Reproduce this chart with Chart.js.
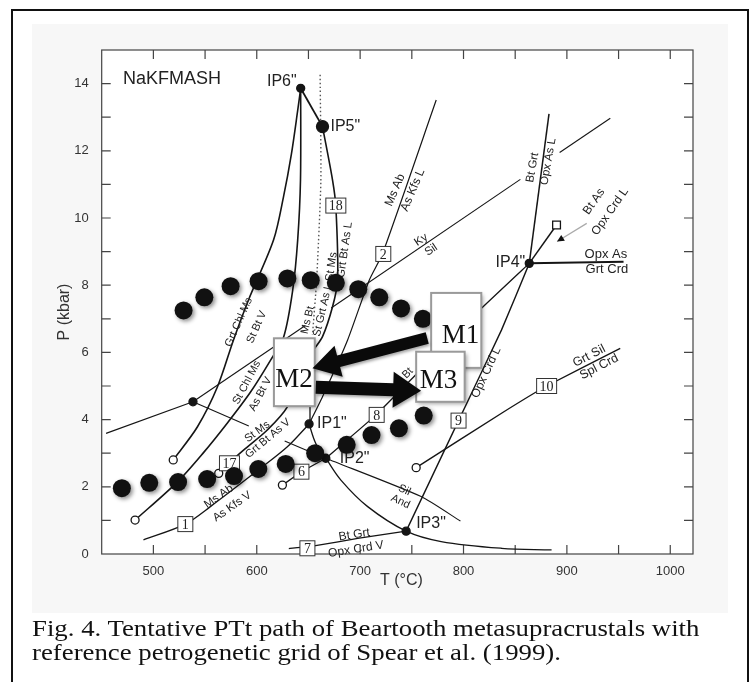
<!DOCTYPE html>
<html>
<head>
<meta charset="utf-8">
<script src="https://cdn.jsdelivr.net/npm/chart.js@4.4.1/dist/chart.umd.min.js"></script>
<style>
html, body { margin: 0; padding: 0; background: #fff; }
#wrap { position: relative; width: 751px; height: 682px; overflow: hidden; }
#frame { position: absolute; left: 11px; top: 9px; width: 738px; height: 700px; border: 2px solid #111; box-sizing: border-box; }
#scan { position: absolute; left: 32px; top: 24px; width: 696px; height: 589px; background: #f7f7f7; }
#chartBox { position: absolute; left: 0; top: 0; width: 751px; height: 682px; }
#caption { position: absolute; left: 32px; top: 616px; font: 26.8px/28px "Liberation Serif", "Times New Roman", serif; color: #111; white-space: nowrap; transform: scaleY(0.86); transform-origin: 0 0; }
</style>
</head>
<body>
<div id="wrap">
  <div id="frame"></div>
  <div id="scan"></div>
  <div id="chartBox"><canvas id="grid"></canvas></div>
  <div id="caption">Fig. 4. Tentative PTt path of Beartooth metasupracrustals with<br>reference petrogenetic grid of Spear et al. (1999).</div>
</div>
<script>
// P-T path (big dots), [T °C, P kbar]
const pathUpper = [[529.2, 7.25], [549.3, 7.64], [574.7, 7.97], [601.8, 8.12], [629.6, 8.2], [652.2, 8.15],
  [676.5, 8.07], [698.2, 7.88], [718.5, 7.64], [739.6, 7.31], [760.7, 7.0]];
const pathLower = [[469.5, 1.96], [496, 2.12], [523.9, 2.14], [552, 2.23], [578, 2.32], [601.5, 2.53],
  [628, 2.68], [656.5, 3.0], [687, 3.25], [711, 3.54], [737.5, 3.74], [761.5, 4.12]];

// reaction curves
const lineGrtChlMs = [[519.2, 2.8], [542.5, 3.78], [561.9, 4.97], [577.5, 6.37], [592, 7.56], [616.3, 9.35],
  [626, 10.65], [633.5, 11.9], [639.6, 13.2], [642.5, 13.86]];
const lineStChlMs = [[642.5, 13.86], [642.3, 11.13], [639.6, 9.35], [634.8, 7.86], [626, 6.46], [613.4, 5.77],
  [594, 4.82], [571.6, 3.9], [548.3, 3.01], [523.1, 2.14], [482.3, 1.01]];
const lineStMs = [[663.6, 12.72], [673.3, 11.13], [676.5, 10.34], [678.2, 8.15], [673.3, 7.36], [663.6, 6.47],
  [653.6, 6.0], [629.6, 4.38], [610.2, 3.69], [587.5, 3.1], [572.9, 2.7], [563.2, 2.4]];
const lineMsAbV = [[490.4, 0.42], [530.9, 0.89], [555.1, 1.41], [603.6, 2.55], [629.6, 3.19], [650.6, 3.87]];
const lineMsAbL = [[650.6, 3.87], [663.6, 4.68], [687.9, 6.37], [708.8, 8.15], [721.8, 8.95], [773.6, 13.51]];
const lineKySil = [[538.3, 4.53], [647, 6.8]];
const lineKySil2 = [[672, 7.32], [855, 11.15]];
const lineKySil3 = [[893, 11.95], [942, 12.97]];
const lineKyAnd = [[454.2, 3.59], [538.3, 4.53]];
const lineSilAnd = [[538.3, 4.53], [592.3, 3.81]];
const lineSilAnd2 = [[627, 3.36], [666.8, 2.85], [759, 1.71], [797, 0.98]];
const lineIP1IP3 = [[650.6, 3.87], [657.1, 3.29], [666.8, 2.85], [681.4, 2.2], [707.3, 1.41], [744.5, 0.68],
  [778.4, 0.37], [836.8, 0.17], [885.2, 0.12]];
const line6 = [[624.8, 2.05], [643.2, 2.45], [666.8, 2.85]];
const line8 = [[666.8, 2.85], [715.4, 4.14], [817.3, 7.31], [863.6, 8.65]];
const line9 = [[744.5, 0.68], [795.2, 3.97], [836.8, 6.67], [863.6, 8.65]];
const lineBtGrtL = [[863.6, 8.65], [882.7, 13.1]];
const lineBtAsL = [[863.6, 8.65], [890, 9.79]];
const lineOpxAs = [[863.6, 8.65], [954.8, 8.7]];
const line10 = [[754.2, 2.57], [836.8, 4.19], [880.4, 5.0], [951.6, 6.12]];
const line7 = [[631, 0.16], [655.4, 0.24], [699.1, 0.47], [744.5, 0.68]];
const lineIP6IP5 = [[642.5, 13.86], [663.6, 12.72]];
const lineIP1Up = [[650.6, 3.87], [651.5, 4.6]];
const lineDotted = [[661.3, 14.26], [662, 11.1], [657.9, 8.15], [653.9, 6.52]];

// invariant points
const openPoints = [[519.2, 2.8], [482.3, 1.01], [563.2, 2.4], [624.8, 2.05], [754.2, 2.57]];
const invariantPoints = [[538.3, 4.53], [650.6, 3.87], [666.8, 2.85], [744.5, 0.68], [863.6, 8.65], [642.5, 13.86]];
const ip5Point = [[663.6, 12.72]];
const squarePoint = [[890, 9.79]];

// metamorphic stages M1-M3: [Tmin, Tmax, Pmin, Pmax]
const stageNames = ['M1', 'M2', 'M3'];
const stageBoxes = [[768.7, 817.2, 5.54, 7.77], [616.6, 656.1, 4.4, 6.42], [754.2, 801.1, 4.53, 6.02]];
const stageText = [[797, 6.52], [636, 5.21], [775.8, 5.18]];
const arrowTails = [[764.9, 6.43], [657.1, 4.96]];
const arrowTips = [[653.9, 5.53], [759, 4.86]];

const xy = a => a.map(([x, y]) => ({ x, y }));
const INK = '#151515';

function curve(data, width, tension, dash) {
  return {
    data: xy(data), showLine: true, pointRadius: 0, borderColor: INK, borderWidth: width,
    tension: tension, borderDash: dash || [], order: 2, clip: false
  };
}
function marks(data, radius, fill, style) {
  return {
    data: xy(data), showLine: false, pointRadius: radius, pointBackgroundColor: fill,
    pointBorderColor: INK, pointBorderWidth: 1.3, pointStyle: style || 'circle', order: 1, clip: false
  };
}

const datasets = [
  curve(lineGrtChlMs, 1.6, 0.3), curve(lineStChlMs, 1.6, 0.3), curve(lineStMs, 1.6, 0.3),
  curve(lineMsAbV, 1.3, 0.3), curve(lineMsAbL, 1.2, 0.2),
  curve(lineKySil, 1.1, 0), curve(lineKySil2, 1.1, 0), curve(lineKySil3, 1.1, 0), curve(lineKyAnd, 1.1, 0),
  curve(lineSilAnd, 1.1, 0), curve(lineSilAnd2, 1.1, 0.2),
  curve(lineIP1IP3, 1.3, 0.35), curve(line6, 1.3, 0), curve(line8, 1.3, 0.1), curve(line9, 1.4, 0.1),
  curve(lineBtGrtL, 1.5, 0), curve(lineBtAsL, 1.5, 0), curve(lineOpxAs, 2, 0), curve(line10, 1.4, 0.1),
  curve(line7, 1.3, 0.1), curve(lineIP6IP5, 1.8, 0), curve(lineIP1Up, 1.3, 0),
  Object.assign(curve(lineDotted, 1.4, 0.2, [1.5, 2.5]), { borderColor: '#555' }),
  marks(openPoints, 4, '#fff'), marks(invariantPoints, 4, INK), marks(ip5Point, 6, INK),
  marks(squarePoint, 5.5, '#fff', 'rect'),
  {
    data: xy(pathUpper.concat(pathLower)), showLine: false, pointRadius: 9, pointHoverRadius: 9,
    pointBackgroundColor: '#111', pointBorderWidth: 0, order: 0, clip: false
  }
];
const DOTS = datasets.length - 1;

// text on the grid: [text, T, P, angle, size]
const reactionText = [
  ['Grt Chl Ms', 582.5, 6.9, -66, 11], ['St Bt V', 600, 6.75, -66, 11],
  ['St Chl Ms', 590.4, 5.1, -62, 11], ['As Bt V', 603.5, 4.76, -62, 11],
  ['St Ms', 600.5, 3.64, -36, 11], ['Grt Bt As V', 610.8, 3.44, -40, 11],
  ['Ms Ab', 563.2, 1.71, -35, 11.5], ['As Kfs V', 576.2, 1.41, -35, 11.5],
  ['Ms Bt', 649.3, 6.96, -77, 11], ['St Grt As L', 664, 7.26, -77, 11],
  ['St Ms', 672.3, 8.55, -82, 11.5], ['Grt Bt As L', 685.2, 9.05, -82, 11.5],
  ['Ms Ab', 733.8, 10.83, -67, 12], ['As Kfs L', 751, 10.83, -67, 12],
  ['Ky', 759, 9.35, -34, 11.5], ['Sil', 768.7, 9.05, -34, 11.5],
  ['Bt Grt', 866.8, 11.5, -80, 11.5], ['Opx As L', 882, 11.68, -80, 11.5],
  ['Bt As', 926.3, 10.49, -55, 12], ['Opx Crd L', 941.8, 10.19, -55, 12],
  ['Opx As', 937.7, 8.93, 0, 13], ['Grt Crd', 938.7, 8.47, 0, 13],
  ['Grt Sil', 921.5, 5.89, -27, 12.5], ['Spl Crd', 931.2, 5.57, -27, 12.5],
  ['Opx Crd L', 822, 5.4, -65, 12], ['Sil', 742.8, 1.9, 25, 11], ['And', 739, 1.56, 25, 11],
  ['Bt Grt', 694.3, 0.57, -9, 12], ['Opx Crd V', 696, 0.14, -9, 12], ['Bt', 746, 5.38, -45, 11]
];
// invariant point names: [text, T, P, dx, dy, align]
const ipText = [
  ['IP6"', 642.5, 13.86, -4, -7, 'right'], ['IP5"', 663.6, 12.72, 8, 0, 'left'],
  ['IP4"', 863.6, 8.65, -4, -1, 'right'], ['IP1"', 650.6, 3.87, 8, 0, 'left'],
  ['IP2"', 666.8, 2.85, 14, 0, 'left'], ['IP3"', 744.5, 0.68, 10, -8, 'left']
];
// numbered reaction boxes
const reactionNumbers = ['1', '17', '6', '7', '8', '9', '10', '18', '2'];
const numberAt = [[530.9, 0.89], [573.6, 2.7], [643.2, 2.45], [649, 0.17], [716, 4.14], [795.2, 3.97],
  [880.4, 5.0], [676.5, 10.37], [722.4, 8.93]];
const pointerFrom = [919.2, 9.84];
const pointerTo = [890.5, 9.3];

function toPx(chart, t, p) {
  return [chart.scales.x.getPixelForValue(t), chart.scales.y.getPixelForValue(p)];
}

function drawArrow(ctx, x0, y0, x1, y1, shaft, headLen, headW) {
  const a = Math.atan2(y1 - y0, x1 - x0);
  const len = Math.hypot(x1 - x0, y1 - y0);
  ctx.save();
  ctx.translate(x0, y0);
  ctx.rotate(a);
  ctx.beginPath();
  ctx.moveTo(0, -shaft / 2);
  ctx.lineTo(len - headLen, -shaft / 2);
  ctx.lineTo(len - headLen, -headW / 2);
  ctx.lineTo(len, 0);
  ctx.lineTo(len - headLen, headW / 2);
  ctx.lineTo(len - headLen, shaft / 2);
  ctx.lineTo(0, shaft / 2);
  ctx.closePath();
  ctx.fill();
  ctx.restore();
}

const figurePlugin = {
  id: 'figure',
  beforeDraw(chart) {
    const { ctx, chartArea: a } = chart;
    ctx.save();
    ctx.fillStyle = '#fff';
    ctx.fillRect(a.left, a.top, a.right - a.left, a.bottom - a.top);
    ctx.restore();
  },
  beforeDatasetsDraw(chart) {
    const { ctx, chartArea: a, scales: { x, y } } = chart;
    ctx.save();
    ctx.strokeStyle = '#444';
    ctx.lineWidth = 1.2;
    ctx.strokeRect(a.left, a.top, a.right - a.left, a.bottom - a.top);
    ctx.beginPath();
    x.ticks.forEach(t => {
      const p = x.getPixelForValue(t.value);
      if (p <= a.left + 1 || p >= a.right - 1) return;
      ctx.moveTo(p, a.bottom); ctx.lineTo(p, a.bottom - 9);
      ctx.moveTo(p, a.top); ctx.lineTo(p, a.top + 9);
    });
    y.ticks.forEach(t => {
      const p = y.getPixelForValue(t.value);
      if (p <= a.top + 1 || p >= a.bottom - 1) return;
      ctx.moveTo(a.left, p); ctx.lineTo(a.left + 9, p);
      ctx.moveTo(a.right, p); ctx.lineTo(a.right - 9, p);
    });
    ctx.stroke();

    // axis titles
    ctx.fillStyle = '#333';
    ctx.font = "16px 'Liberation Sans', Arial, sans-serif";
    ctx.textAlign = 'center';
    ctx.textBaseline = 'middle';
    ctx.fillText('T (°C)', (a.left + a.right) / 2 + 4, a.bottom + 27);
    ctx.save();
    ctx.translate(a.left - 37, (a.top + a.bottom) / 2 + 10);
    ctx.rotate(-Math.PI / 2);
    ctx.fillText('P (kbar)', 0, 0);
    ctx.restore();

    const [nx, ny] = toPx(chart, 470.7, 14.15);
    ctx.font = "18px 'Liberation Sans', Arial, sans-serif";
    ctx.fillStyle = '#222';
    ctx.textAlign = 'left';
    ctx.fillText('NaKFMASH', nx, ny);
    ctx.restore();
  },
  beforeDatasetDraw(chart, args) {
    if (args.index !== DOTS) return;
    const ctx = chart.ctx;
    ctx.save();
    ctx.fillStyle = '#222';
    ctx.textAlign = 'center';
    ctx.textBaseline = 'middle';
    reactionText.forEach(([s, t, p, ang, size]) => {
      const [px, py] = toPx(chart, t, p);
      ctx.save();
      ctx.translate(px, py);
      ctx.rotate(ang * Math.PI / 180);
      ctx.font = size + "px 'Liberation Sans', Arial, sans-serif";
      ctx.fillText(s, 0, 0);
      ctx.restore();
    });
    ctx.font = "16px 'Liberation Sans', Arial, sans-serif";
    ipText.forEach(([s, t, p, dx, dy, align]) => {
      const [px, py] = toPx(chart, t, p);
      ctx.textAlign = align;
      ctx.fillText(s, px + dx, py + dy);
    });
    ctx.textAlign = 'center';
    ctx.font = "14px 'Liberation Serif', 'Times New Roman', serif";
    reactionNumbers.forEach((s, i) => {
      const [px, py] = toPx(chart, numberAt[i][0], numberAt[i][1]);
      const w = s.length > 1 ? 20 : 15;
      ctx.fillStyle = '#fff';
      ctx.fillRect(px - w / 2, py - 7.5, w, 15);
      ctx.strokeStyle = '#333';
      ctx.lineWidth = 1;
      ctx.strokeRect(px - w / 2, py - 7.5, w, 15);
      ctx.fillStyle = '#222';
      ctx.fillText(s, px, py + 1);
    });
    // little pointer to the Bt As = Opx Crd L curve
    const [fx, fy] = toPx(chart, pointerFrom[0], pointerFrom[1]);
    const [tx, ty] = toPx(chart, pointerTo[0], pointerTo[1]);
    ctx.strokeStyle = '#aaa';
    ctx.lineWidth = 1.2;
    ctx.beginPath();
    ctx.moveTo(fx, fy);
    ctx.lineTo(tx, ty);
    ctx.stroke();
    ctx.fillStyle = '#111';
    drawArrow(ctx, tx + (fx - tx) * 0.3, ty + (fy - ty) * 0.3, tx, ty, 0, 7, 7);
    ctx.restore();

    ctx.save();
    ctx.shadowColor = 'rgba(0,0,0,0.45)';
    ctx.shadowBlur = 4;
    ctx.shadowOffsetX = 2;
    ctx.shadowOffsetY = 2;
  },
  afterDatasetDraw(chart, args) {
    if (args.index === DOTS) chart.ctx.restore();
  },
  afterDatasetsDraw(chart) {
    const ctx = chart.ctx;
    ctx.save();
    stageBoxes.forEach(([t0, t1, p0, p1]) => {
      const [x0, y0] = toPx(chart, t0, p1);
      const [x1, y1] = toPx(chart, t1, p0);
      ctx.save();
      ctx.shadowColor = 'rgba(0,0,0,0.35)';
      ctx.shadowBlur = 4;
      ctx.shadowOffsetX = 2;
      ctx.shadowOffsetY = 2;
      ctx.fillStyle = '#fff';
      ctx.fillRect(x0, y0, x1 - x0, y1 - y0);
      ctx.restore();
      ctx.strokeStyle = '#9a9a9a';
      ctx.lineWidth = 2;
      ctx.strokeRect(x0, y0, x1 - x0, y1 - y0);
    });
    ctx.fillStyle = '#0a0a0a';
    ctx.shadowColor = 'rgba(0,0,0,0.35)';
    ctx.shadowBlur = 3;
    ctx.shadowOffsetX = 1;
    ctx.shadowOffsetY = 2;
    const sizes = [[12, 27, 32], [13, 28, 36]];
    arrowTails.forEach((tail, i) => {
      const [x0, y0] = toPx(chart, tail[0], tail[1]);
      const [x1, y1] = toPx(chart, arrowTips[i][0], arrowTips[i][1]);
      drawArrow(ctx, x0, y0, x1, y1, sizes[i][0], sizes[i][1], sizes[i][2]);
    });
    ctx.shadowColor = 'transparent';
    ctx.font = "27px 'Liberation Serif', 'Times New Roman', serif";
    ctx.textAlign = 'center';
    ctx.textBaseline = 'middle';
    ctx.fillStyle = '#111';
    stageNames.forEach((s, i) => {
      const [px, py] = toPx(chart, stageText[i][0], stageText[i][1]);
      ctx.fillText(s, px, py + 1);
    });
    ctx.restore();
  }
};

Chart.defaults.font.family = "'Liberation Sans', Arial, sans-serif";

new Chart(document.getElementById('grid'), {
  type: 'scatter',
  data: { datasets },
  plugins: [figurePlugin],
  options: {
    responsive: true,
    maintainAspectRatio: false,
    animation: false,
    layout: { padding: { top: 50, right: 58, left: 0, bottom: 0 } },
    plugins: { legend: { display: false }, tooltip: { enabled: false } },
    events: [],
    scales: {
      x: {
        type: 'linear', min: 450, max: 1022,
        afterFit: s => { s.height = 128; },
        grid: { display: false },
        border: { display: false },
        ticks: {
          stepSize: 50, includeBounds: false, autoSkip: false, maxRotation: 0, padding: 2,
          color: '#333', font: { size: 13 },
          callback: v => (v % 100 === 0 ? v : '')
        }
      },
      y: {
        type: 'linear', min: 0, max: 15,
        afterFit: s => { s.width = 101.7; },
        grid: { display: false },
        border: { display: false },
        ticks: {
          stepSize: 1, includeBounds: false, autoSkip: false, padding: 5,
          color: '#333', font: { size: 13 },
          callback: v => (v % 2 === 0 ? v : '')
        }
      }
    }
  }
});
</script>
</body>
</html>
